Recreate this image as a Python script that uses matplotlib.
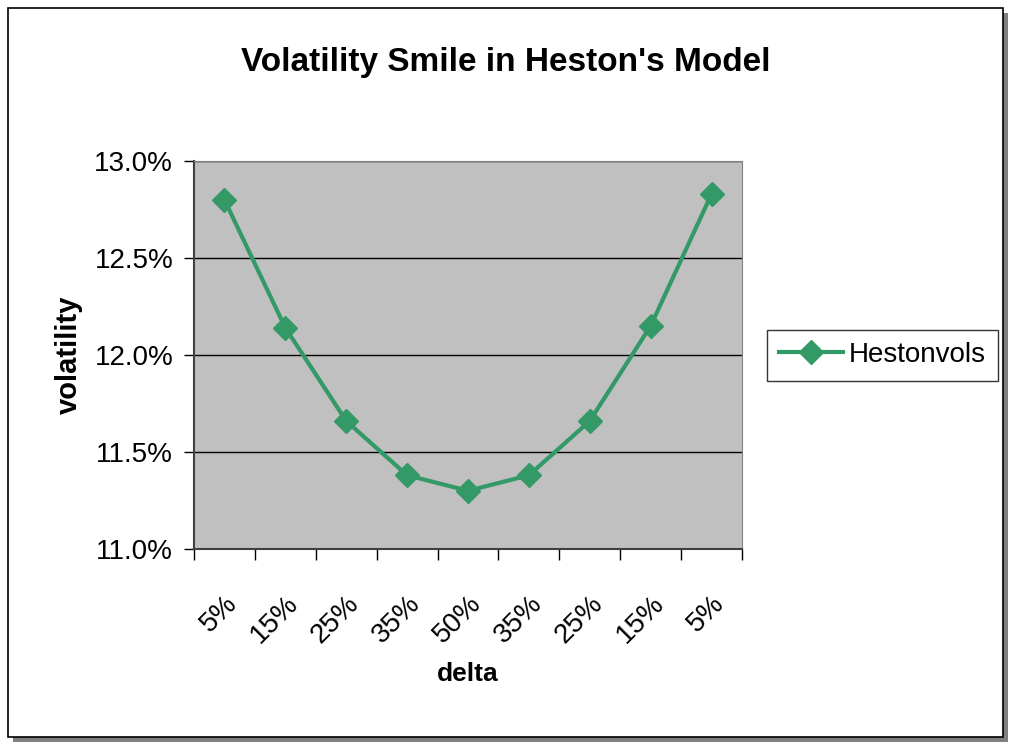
import numpy as np
import matplotlib.pyplot as plt
from matplotlib.patches import Rectangle
from matplotlib.ticker import FuncFormatter, FixedLocator

# Heston model implied volatility by delta
delta_labels = ["5%", "15%", "25%", "35%", "50%", "35%", "25%", "15%", "5%"]
heston_vols = [12.80, 12.14, 11.66, 11.38, 11.30, 11.38, 11.66, 12.15, 12.83]

plt.rcParams["font.family"] = ["Liberation Sans", "DejaVu Sans"]
green = "#339966"

fig = plt.figure(figsize=(10.12, 7.43), dpi=100)

# chart frame with shadow
fig.patches.append(Rectangle((13 / 1012, 1 - 742 / 743), 995 / 1012, 729 / 743,
                             transform=fig.transFigure, facecolor="#808080",
                             edgecolor="none", zorder=-2))
fig.patches.append(Rectangle((8 / 1012, 1 - 737 / 743), 995 / 1012, 729 / 743,
                             transform=fig.transFigure, facecolor="white",
                             edgecolor="black", linewidth=1.2, zorder=-1))

ax = fig.add_axes([194 / 1012, 1 - 549 / 743, 548 / 1012, 388 / 743])
ax.set_facecolor("#c0c0c0")

x = np.arange(len(heston_vols))
ax.plot(x, heston_vols, color=green, linewidth=3, marker="D", markersize=12,
        label="Hestonvols")

ax.set_xlim(-0.5, len(x) - 0.5)
ax.set_ylim(11.0, 13.0)
ax.set_yticks([11.0, 11.5, 12.0, 12.5, 13.0])
ax.yaxis.set_major_formatter(FuncFormatter(lambda v, p: f"{v:.1f}%"))
ax.grid(axis="y", color="black", linewidth=1)
ax.set_axisbelow(True)

ax.set_xticks(x)
ax.set_xticklabels(delta_labels, rotation=45, ha="right", rotation_mode="anchor")
ax.xaxis.set_minor_locator(FixedLocator(np.arange(-0.5, len(x), 1.0)))
ax.tick_params(axis="x", which="major", length=0, pad=30, labelsize=20)
ax.tick_params(axis="x", which="minor", length=8, width=1, direction="out")
ax.tick_params(axis="y", length=7, width=1, pad=8, labelsize=20)

for s in ["top", "right"]:
    ax.spines[s].set_color("#808080")
for s in ["left", "bottom"]:
    ax.spines[s].set_color("#404040")
    ax.spines[s].set_linewidth(1.5)

ax.set_xlabel("delta", fontsize=19, fontweight="bold", labelpad=10)
ax.set_ylabel("volatility", fontsize=21, fontweight="bold", labelpad=8)
fig.suptitle("Volatility Smile in Heston's Model", fontsize=24,
             fontweight="bold", y=1 - 63 / 743, va="center")

leg = fig.legend(loc="center left", bbox_to_anchor=(767 / 1012, 1 - 355 / 743),
                 fontsize=20, frameon=True, fancybox=False, handlelength=2.3,
                 borderpad=0.45, handletextpad=0.2, borderaxespad=0)
leg.get_frame().set_edgecolor("black")
leg.get_frame().set_linewidth(1)

fig.savefig("out.png", dpi=100)
